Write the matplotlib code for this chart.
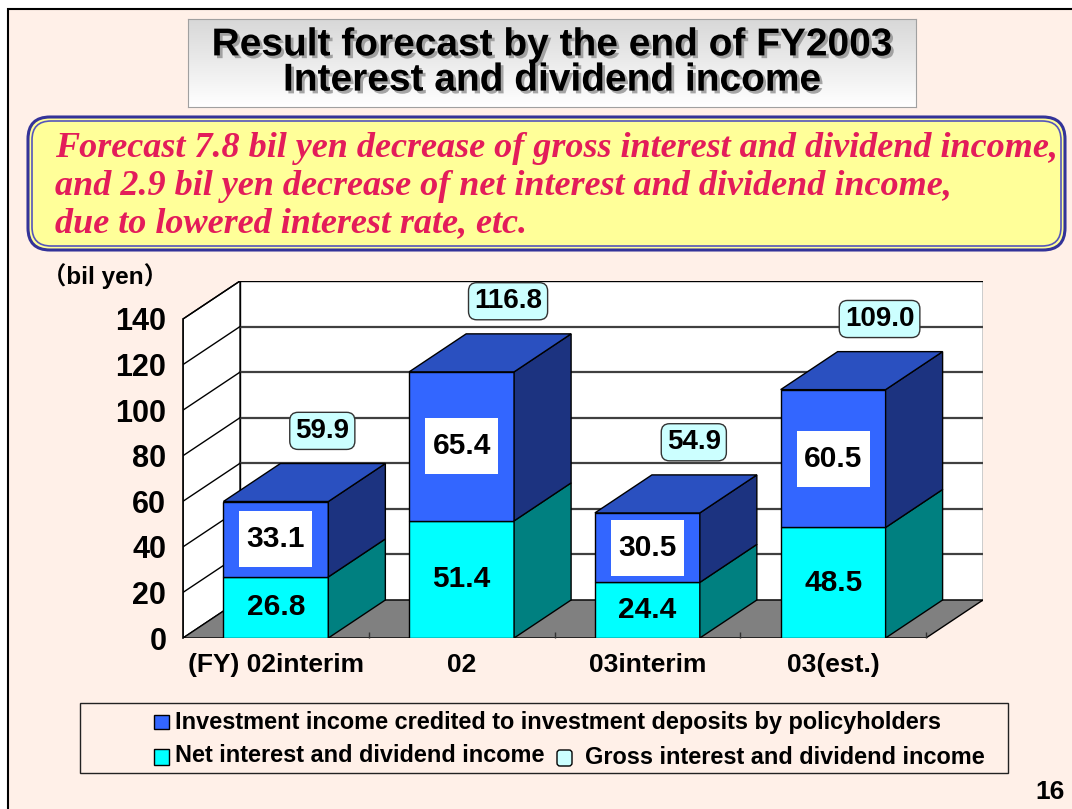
import numpy as np
import matplotlib
matplotlib.use('Agg')
import matplotlib.pyplot as plt
from matplotlib.patches import Polygon, Rectangle, FancyBboxPatch
from matplotlib.colors import LinearSegmentedColormap
import matplotlib.patheffects as pe

plt.rcParams['font.family'] = ['Liberation Sans', 'Noto Sans CJK JP', 'DejaVu Sans']

# data
categories = ['(FY) 02interim', '02', '03interim', '03(est.)']
net_income = [26.8, 51.4, 24.4, 48.5]
invest_income = [33.1, 65.4, 30.5, 60.5]
gross_income = [59.9, 116.8, 54.9, 109.0]
yticks = [0, 20, 40, 60, 80, 100, 120, 140]

# colours
bg_col = '#FFF0E8'
cyan = '#00FFFF'
cyan_side = '#008080'
blue = '#3366FF'
blue_top = '#2A50C0'
blue_side = '#1C3380'
floor_col = '#808080'

W, H = 1072, 809
fig = plt.figure(figsize=(W / 100, H / 100), dpi=100, facecolor='white')

# =============================================================================
# slide background (pixel coords)
# =============================================================================
bg = fig.add_axes([0, 0, 1, 1])
bg.set_xlim(0, W)
bg.set_ylim(H, 0)
bg.axis('off')
bg.add_patch(Rectangle((7.5, 8.5), W, H, fc=bg_col, ec='black', lw=1.5))

# yellow message box with double blue border
bg.add_patch(FancyBboxPatch((28, 117), 1037, 133, boxstyle='round,pad=0,rounding_size=22',
                            fc='#FFFF99', ec='#333399', lw=2.2))
bg.add_patch(FancyBboxPatch((32, 121), 1029, 125, boxstyle='round,pad=0,rounding_size=19',
                            fc='none', ec='#5555BB', lw=1.2))
msg = ['Forecast 7.8 bil yen decrease of gross interest and dividend income,',
       'and 2.9 bil yen decrease of net interest and dividend income,',
       'due to lowered interest rate, etc.']
for k, line in enumerate(msg):
    bg.text(55, 148 + 38 * k, line, family='Liberation Serif', style='italic',
            weight='bold', fontsize=26, color='#E31C5A', va='center', ha='left')

bg.text(42, 276, '（bil yen）', fontsize=17.5, weight='bold', va='center', ha='left')
bg.text(1065, 792, '16', fontsize=19, weight='bold', va='center', ha='right')

# legend
bg.add_patch(Rectangle((80, 703), 928, 70, fc=bg_col, ec='#222222', lw=1))
bg.add_patch(Rectangle((154, 715), 15, 14, fc=blue, ec='black', lw=1))
bg.text(175, 722, 'Investment income credited to investment deposits by policyholders',
        fontsize=16.9, weight='bold', va='center')
bg.add_patch(Rectangle((154, 749), 15, 16, fc=cyan, ec='black', lw=1))
bg.text(175, 756, 'Net interest and dividend income', fontsize=16.9, weight='bold', va='center')
bg.add_patch(FancyBboxPatch((557, 750), 15, 16, boxstyle='round,pad=0,rounding_size=3',
                            fc='#CCFFFF', ec='black', lw=1))
bg.text(585, 758, 'Gross interest and dividend income', fontsize=16.9, weight='bold', va='center')

# =============================================================================
# title box
# =============================================================================
tax = fig.add_axes([188 / W, 1 - 107 / H, 728 / W, 88 / H])
grad = LinearSegmentedColormap.from_list('g', ['#D8D8D8', '#FFFFFF'])
tax.imshow(np.linspace(0, 1, 64).reshape(-1, 1), cmap=grad, aspect='auto', extent=[0, 1, 0, 1])
tax.set_xticks([])
tax.set_yticks([])
for s in tax.spines.values():
    s.set_color('#A0A0A0')
shadow = [pe.withSimplePatchShadow(offset=(2, -2), shadow_rgbFace='#909090', alpha=0.8)]
tax.text(0.5, 0.70, 'Result forecast by the end of FY2003', transform=tax.transAxes,
         ha='center', va='center', fontsize=28, weight='bold', path_effects=shadow)
tax.text(0.5, 0.30, 'Interest and dividend income', transform=tax.transAxes,
         ha='center', va='center', fontsize=28, weight='bold', path_effects=shadow)

# =============================================================================
# 3D-looking stacked bar chart
# =============================================================================
ax = fig.add_axes([183 / W, 1 - 638 / H, 800 / W, 357 / H])
ax.patch.set_alpha(0)
n = len(categories)
px_x = 185.75             # pixels per category
px_y = 319 / 140          # pixels per bil yen
dx = 57 / px_x            # depth offset in category units
dy = 38 / px_y            # depth offset in value units
ymax = yticks[-1]
ax.set_xlim(0, n + dx)
ax.set_ylim(0, ymax + dy)
for s in ax.spines.values():
    s.set_visible(False)

# walls and floor
ax.add_patch(Rectangle((dx, dy), n, ymax, fc='white', ec='black', lw=1, zorder=0))
ax.add_patch(Polygon([(0, 0), (dx, dy), (dx, ymax + dy), (0, ymax)], closed=True,
                     fc='white', ec='black', lw=1, zorder=0))
for v in yticks[1:-1]:
    ax.plot([dx, n + dx], [v + dy, v + dy], color='#404040', lw=1.6, zorder=1)
for v in yticks[1:]:
    ax.plot([0, dx], [v, v + dy], color='black', lw=1, zorder=1)
ax.add_patch(Polygon([(0, 0), (n, 0), (n + dx, dy), (dx, dy)], closed=True,
                     fc=floor_col, ec='black', lw=1, zorder=1))
ax.plot([0, 0], [0, ymax], color='black', lw=1.2, zorder=2, clip_on=False)

x = np.arange(n) + 0.5
w = 0.565
ax.bar(x, net_income, width=w, color=cyan, edgecolor='black', lw=1, zorder=3)
ax.bar(x, invest_income, width=w, bottom=net_income, color=blue, edgecolor='black', lw=1, zorder=3)

box_w, box_h = 73 / px_x, 56 / px_y
for i in range(n):
    x0, x1 = x[i] - w / 2, x[i] + w / 2
    c, t = net_income[i], gross_income[i]
    ax.add_patch(Polygon([(x1, 0), (x1 + dx, dy), (x1 + dx, c + dy), (x1, c)], closed=True,
                         fc=cyan_side, ec='black', lw=1, zorder=3))
    ax.add_patch(Polygon([(x1, c), (x1 + dx, c + dy), (x1 + dx, t + dy), (x1, t)], closed=True,
                         fc=blue_side, ec='black', lw=1, zorder=3))
    ax.add_patch(Polygon([(x0, t), (x0 + dx, t + dy), (x1 + dx, t + dy), (x1, t)], closed=True,
                         fc=blue_top, ec='black', lw=1, zorder=3))
    # labels
    ax.text(x[i], c / 2, f'{c:.1f}', ha='center', va='center', fontsize=21.5,
            weight='bold', zorder=5)
    ym = c + invest_income[i] / 2
    ax.add_patch(Rectangle((x[i] - box_w / 2, ym - box_h / 2), box_w, box_h,
                           fc='white', ec='none', zorder=4))
    ax.text(x[i], ym, f'{invest_income[i]:.1f}', ha='center', va='center',
            fontsize=21.5, weight='bold', zorder=5)
    ax.text(x[i] + 0.25, t + 31, f'{t:.1f}', ha='center', va='center', fontsize=20,
            weight='bold', zorder=5,
            bbox=dict(boxstyle='round,pad=0.2,rounding_size=0.3', fc='#CCFFFF',
                      ec='#333333', lw=1))

ax.set_yticks(yticks)
ax.set_yticklabels([str(v) for v in yticks], fontsize=22, weight='bold')
ax.tick_params(axis='y', length=0, pad=12)
ax.set_xticks(x)
ax.set_xticklabels(categories, fontsize=19, weight='bold')
ax.tick_params(axis='x', which='major', length=0, pad=11)
ax.set_xticks(np.arange(1, n + 1), minor=True)
ax.tick_params(axis='x', which='minor', direction='in', length=4, width=1, color='#333333')

fig.savefig('out.png', dpi=100, facecolor=fig.get_facecolor())
